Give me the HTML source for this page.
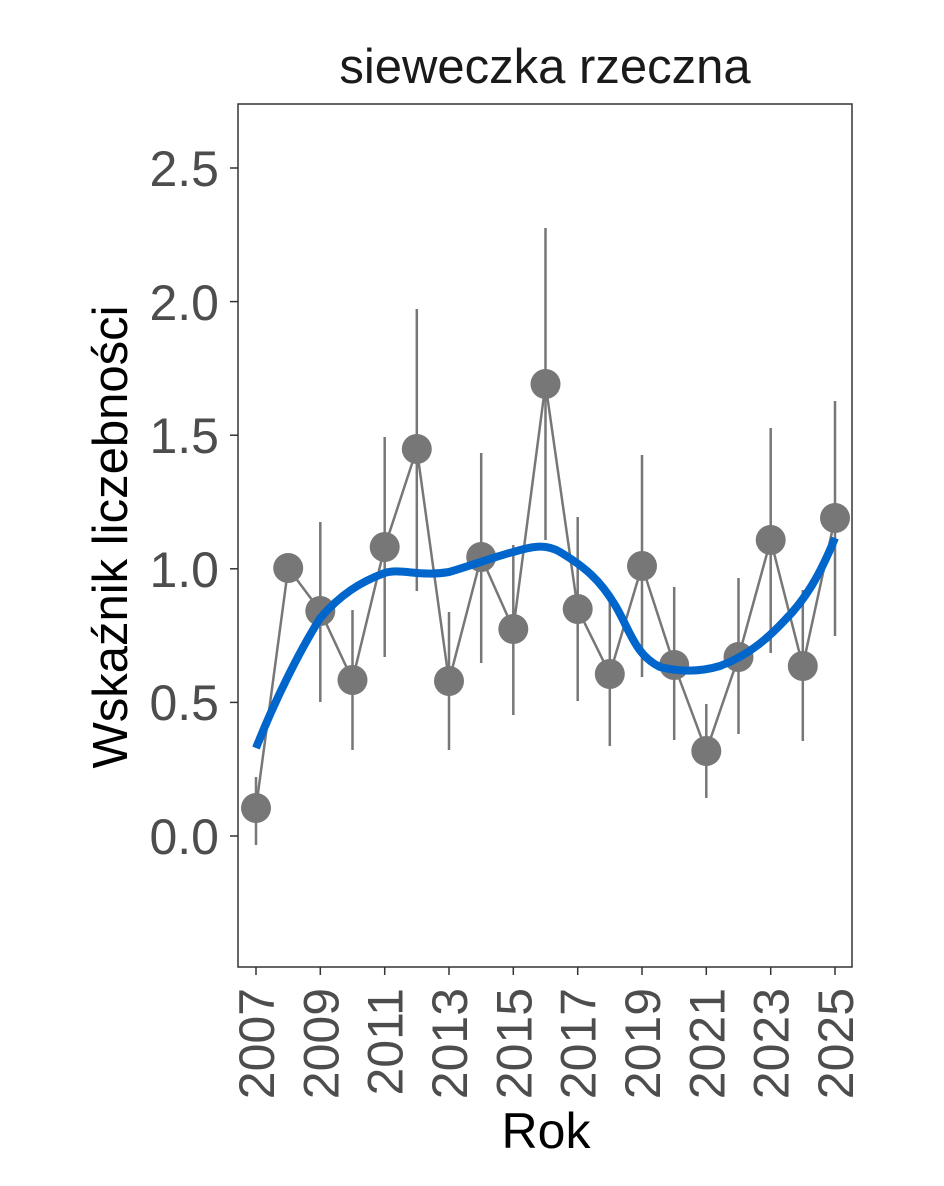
<!DOCTYPE html>
<html><head><meta charset="utf-8"><style>body{margin:0;background:#fff}</style></head><body>
<svg width="944" height="1181" xmlns="http://www.w3.org/2000/svg" font-family="Liberation Sans, sans-serif">
<rect width="944" height="1181" fill="#fff"/>
<rect x="238" y="104" width="614" height="863" fill="#fff" stroke="#333" stroke-width="1.5"/>
<g stroke="#333" stroke-width="1.5">
<line x1="230" y1="836" x2="238" y2="836"/><line x1="230" y1="702.4" x2="238" y2="702.4"/><line x1="230" y1="568.8" x2="238" y2="568.8"/><line x1="230" y1="435.2" x2="238" y2="435.2"/><line x1="230" y1="301.6" x2="238" y2="301.6"/><line x1="230" y1="168" x2="238" y2="168"/>
<line x1="256" y1="967" x2="256" y2="975"/><line x1="320.3" y1="967" x2="320.3" y2="975"/><line x1="384.7" y1="967" x2="384.7" y2="975"/><line x1="449" y1="967" x2="449" y2="975"/><line x1="513.3" y1="967" x2="513.3" y2="975"/><line x1="577.7" y1="967" x2="577.7" y2="975"/><line x1="642" y1="967" x2="642" y2="975"/><line x1="706.3" y1="967" x2="706.3" y2="975"/><line x1="770.7" y1="967" x2="770.7" y2="975"/><line x1="835" y1="967" x2="835" y2="975"/>
</g>
<g fill="#4d4d4d" font-size="50" text-anchor="end">
<text x="219" y="854">0.0</text><text x="219" y="720">0.5</text><text x="219" y="587">1.0</text><text x="219" y="453">1.5</text><text x="219" y="320">2.0</text><text x="219" y="186">2.5</text>
</g>
<g fill="#4d4d4d" font-size="50" text-anchor="end">
<text transform="translate(274,988) rotate(-90)">2007</text>
<text transform="translate(338.3,988) rotate(-90)">2009</text>
<text transform="translate(402.7,988) rotate(-90)">2011</text>
<text transform="translate(467,988) rotate(-90)">2013</text>
<text transform="translate(531.3,988) rotate(-90)">2015</text>
<text transform="translate(595.7,988) rotate(-90)">2017</text>
<text transform="translate(660,988) rotate(-90)">2019</text>
<text transform="translate(724.3,988) rotate(-90)">2021</text>
<text transform="translate(788.7,988) rotate(-90)">2023</text>
<text transform="translate(853,988) rotate(-90)">2025</text>
</g>
<text x="545" y="83" font-size="49" text-anchor="middle" fill="#1a1a1a">sieweczka rzeczna</text>
<text x="546" y="1148" font-size="50" text-anchor="middle" fill="#000">Rok</text>
<text transform="translate(127,537) rotate(-90)" font-size="49" text-anchor="middle" fill="#000">Wskaźnik liczebności</text>
<g stroke="#777" stroke-width="2.5">
<line x1="256" y1="777" x2="256" y2="845"/>
<line x1="320.3" y1="522" x2="320.3" y2="702"/>
<line x1="352.5" y1="610" x2="352.5" y2="750"/>
<line x1="384.7" y1="437" x2="384.7" y2="657"/>
<line x1="416.8" y1="309" x2="416.8" y2="591"/>
<line x1="449" y1="612" x2="449" y2="750"/>
<line x1="481.2" y1="453" x2="481.2" y2="663"/>
<line x1="513.3" y1="545" x2="513.3" y2="715"/>
<line x1="545.5" y1="228" x2="545.5" y2="540"/>
<line x1="577.7" y1="517" x2="577.7" y2="701"/>
<line x1="609.8" y1="602" x2="609.8" y2="746"/>
<line x1="642" y1="455" x2="642" y2="677"/>
<line x1="674.2" y1="587" x2="674.2" y2="740"/>
<line x1="706.3" y1="704" x2="706.3" y2="798"/>
<line x1="738.5" y1="578" x2="738.5" y2="734"/>
<line x1="770.7" y1="428" x2="770.7" y2="653"/>
<line x1="802.8" y1="590" x2="802.8" y2="741"/>
<line x1="835" y1="401" x2="835" y2="636"/>
</g>
<polyline fill="none" stroke="#777" stroke-width="2.5" points="256,808 288.2,568 320.3,611 352.5,680 384.7,547 416.8,449 449,681 481.2,557 513.3,629 545.5,384 577.7,609 609.8,674 642,566 674.2,665 706.3,751 738.5,657 770.7,540 802.8,666 835,518"/>
<g fill="#777">
<circle cx="256" cy="808" r="15"/><circle cx="288.2" cy="568" r="15"/><circle cx="320.3" cy="611" r="15"/><circle cx="352.5" cy="680" r="15"/><circle cx="384.7" cy="547" r="15"/><circle cx="416.8" cy="449" r="15"/><circle cx="449" cy="681" r="15"/><circle cx="481.2" cy="557" r="15"/><circle cx="513.3" cy="629" r="15"/><circle cx="545.5" cy="384" r="15"/><circle cx="577.7" cy="609" r="15"/><circle cx="609.8" cy="674" r="15"/><circle cx="642" cy="566" r="15"/><circle cx="674.2" cy="665" r="15"/><circle cx="706.3" cy="751" r="15"/><circle cx="738.5" cy="657" r="15"/><circle cx="770.7" cy="540" r="15"/><circle cx="802.8" cy="666" r="15"/><circle cx="835" cy="518" r="15"/>
</g>
<path fill="none" stroke="#0066cc" stroke-width="8" stroke-linejoin="round" d="M256,748 C275,700 300,650 320.3,618 C340,595 360,582 384.7,573 C400,568 420,577 449,572 C470,566 500,555 513.3,552 C530,547 545,543 560,552 C585,567 600,580 615,605 C630,630 635,655 660,667 C680,672 700,672 720,666 C750,655 770,636 785,620 C805,600 820,575 835,538"/>
</svg>
</body></html>
